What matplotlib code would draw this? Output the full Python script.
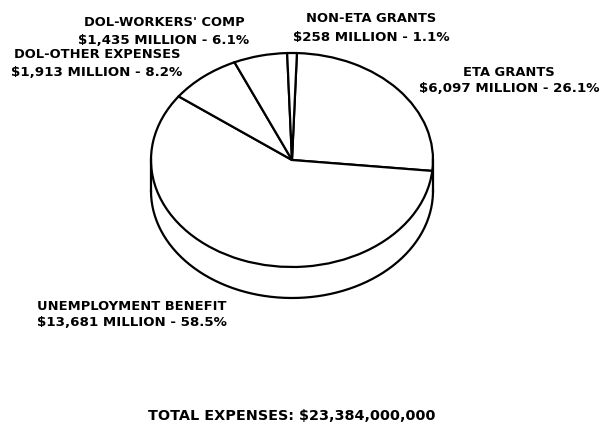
import numpy as np
import matplotlib
matplotlib.use('Agg')
import matplotlib.pyplot as plt

# expenses in $ millions, clockwise from the top
categories = ['ETA GRANTS', 'UNEMPLOYMENT BENEFIT', 'DOL-OTHER EXPENSES', "DOL-WORKERS' COMP", 'NON-ETA GRANTS']
amounts = [6097, 13681, 1913, 1435, 258]
amount_labels = ['$6,097 MILLION - 26.1%', '$13,681 MILLION - 58.5%', '$1,913 MILLION - 8.2%',
                 '$1,435 MILLION - 6.1%', '$258 MILLION - 1.1%']
total_label = 'TOTAL EXPENSES: $23,384,000,000'

W, H = 603, 425
cx, cy, rx, ry = 292, 160, 141, 107
depth = 31 / ry
label_pos = [(509, 72, 17), (132, 306, 17), (97, 55, 18), (164, 23, 17), (371, 19, 19)]

plt.rcParams['font.family'] = ['DejaVu Sans']
fig = plt.figure(figsize=(W / 100, H / 100), dpi=100)
ax = fig.add_axes([0, 0, 1, 1])

ax.pie(amounts, startangle=88, counterclock=False, radius=1,
       colors=['white'] * len(amounts),
       wedgeprops=dict(edgecolor='black', linewidth=1.6))
ax.set_aspect('auto')
ax.set_xlim(-cx / rx, (W - cx) / rx)
ax.set_ylim((cy - H) / ry, cy / ry)

# side of the disc
t = np.linspace(np.pi, 2 * np.pi, 200)
ax.plot(np.cos(t), np.sin(t) - depth, color='black', lw=1.6)
ax.plot([-1, -1], [0, -depth], color='black', lw=1.6)
ax.plot([1, 1], [0, -depth], color='black', lw=1.6)
ax.axis('off')

for name, amt, (x, y, dy) in zip(categories, amount_labels, label_pos):
    fig.text(x / W, 1 - y / H, name, ha='center', va='center', fontsize=9.4, fontweight='bold')
    fig.text(x / W, 1 - (y + dy) / H, amt, ha='center', va='center', fontsize=9.6, fontweight='bold')

fig.text(292 / W, 1 - 416 / H, total_label, ha='center', va='center', fontsize=10.4, fontweight='bold')

fig.savefig('out.png', dpi=100)
